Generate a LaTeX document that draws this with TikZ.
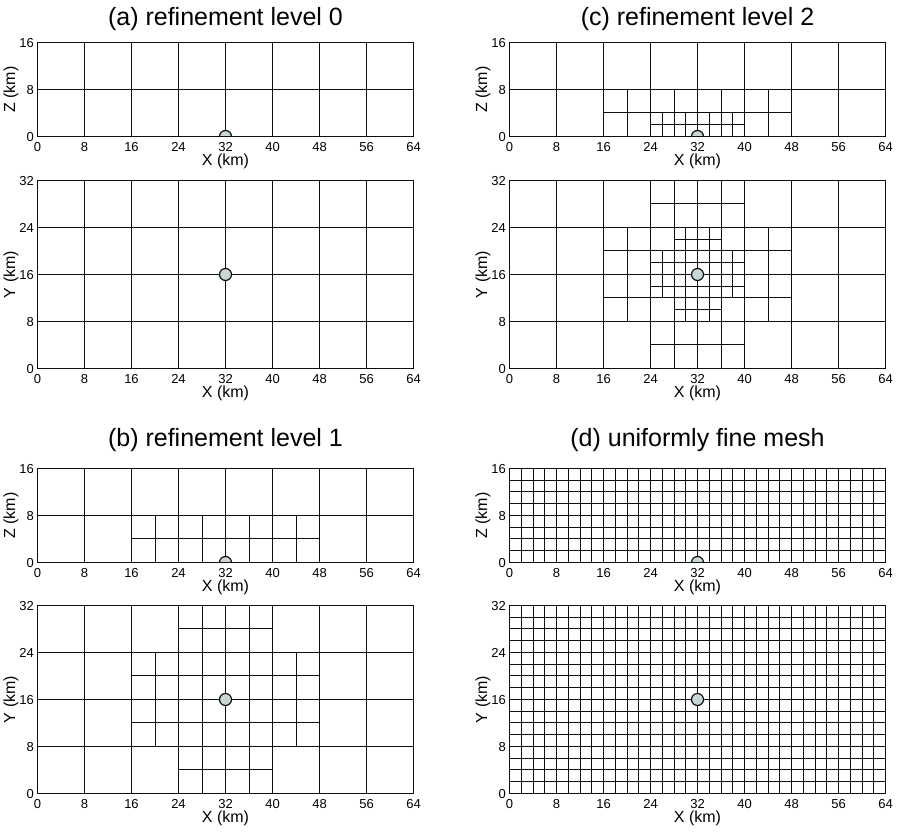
\documentclass[tikz,border=0pt]{standalone}
\usepackage{fontspec}
\setmainfont{Liberation Sans}
\definecolor{srcfill}{RGB}{200,214,214}
\definecolor{ink}{RGB}{15,15,15}
\tikzset{
  gl/.style={draw=ink, line width=1.4pt, line cap=rect},
  src/.style={circle, draw=ink, line width=1.2pt, fill=srcfill, minimum size=12pt, inner sep=0pt},
  tick/.style={inner sep=0pt, anchor=base, font=\fontsize{13}{15}\selectfont},
  axlab/.style={inner sep=0pt, font=\fontsize{16}{18}\selectfont},
  ttl/.style={inner sep=0pt, anchor=base, font=\fontsize{25}{28}\selectfont}
}
\def\kx{5.875}
\def\ky{5.875}
% panel origin (pixel coordinates of the (0,0) km corner)
\newcommand\setpanel[2]{\def\ox{#1}\def\oy{#2}}
% mesh lines: x0,y0,x1,y1,step (km), snapped to pixel centres
\newcommand\mgrid[5]{%
  \pgfmathtruncatemacro\mgnx{(#3-#1)/#5}%
  \pgfmathtruncatemacro\mgny{(#4-#2)/#5}%
  \pgfmathsetmacro\pya{\oy-round(#2*\ky)+0.5}%
  \pgfmathsetmacro\pyb{\oy-round(#4*\ky)+0.5}%
  \pgfmathsetmacro\pxa{\ox+round(#1*\kx)+0.5}%
  \pgfmathsetmacro\pxb{\ox+round(#3*\kx)+0.5}%
  \foreach \k in {0,...,\mgnx} {\pgfmathsetmacro\mgp{\ox+round((#1+\k*#5)*\kx)+0.5}\draw[gl] (\mgp,\pya) -- (\mgp,\pyb);}%
  \foreach \k in {0,...,\mgny} {\pgfmathsetmacro\mgp{\oy-round((#2+\k*#5)*\ky)+0.5}\draw[gl] (\pxa,\mgp) -- (\pxb,\mgp);}%
}
% #1 prefix, #2 ymax (km), #3 y letter
\newcommand\panellabels[3]{%
  \foreach \i in {0,8,...,64} {\pgfmathsetmacro\mgp{\ox+round(\i*\kx)+0.5}\node[tick] (#1x\i) at (\mgp,\oy+15.2) {\i};}%
  \foreach \j in {0,8,...,#2} {\pgfmathsetmacro\mgp{\oy-round(\j*\ky)+0.5+4.6}\node[tick, anchor=base east] (#1y\j) at (\ox-3,\mgp) {\j};}%
  \node[axlab] (#1xl) at (\ox+188.5,\oy+25.5) {X (km)};%
  \pgfmathsetmacro\mgp{\oy-round(#2/2*\ky)+0.5}%
  \node[axlab, rotate=90] (#1yl) at (\ox-26,\mgp) {#3 (km)};%
}
% source on the surface (half circle) and in plan view
\newcommand\srcxz[1]{%
  \begin{scope}\clip (\ox+0.5,\oy+0.5) rectangle (\ox+376.5,\oy-93.5);
    \node[src] (#1) at (\ox+188.5,\oy+0.5) {};
  \end{scope}%
  \draw[gl] (\ox+0.5,\oy+0.5) -- (\ox+376.5,\oy+0.5);%
}
\newcommand\srcxy[1]{\node[src] (#1) at (\ox+188.5,\oy-93.5) {};}
\begin{document}
\begin{tikzpicture}[x=1pt,y=-1pt]
\useasboundingbox (0,0) rectangle (897,835);

% titles
\node[ttl] (ta) at (225.5,25.5) {(a) refinement level 0};
\node[ttl] (tc) at (697.5,25.5) {(c) refinement level 2};
\node[ttl] (tb) at (225.5,446) {(b) refinement level 1};
\node[ttl] (td) at (697.5,446) {(d) uniformly fine mesh};

% ---------- (a) ----------
\setpanel{37}{136}
\mgrid{0}{0}{64}{16}{8}
\srcxz{sa1}
\panellabels{a1}{16}{Z}
\setpanel{37}{368}
\mgrid{0}{0}{64}{32}{8}
\srcxy{sa2}
\panellabels{a2}{32}{Y}

% ---------- (c) ----------
\setpanel{509}{136}
\mgrid{0}{0}{64}{16}{8}
\mgrid{16}{0}{48}{8}{4}
\mgrid{24}{0}{40}{4}{2}
\srcxz{sc1}
\panellabels{c1}{16}{Z}
\setpanel{509}{368}
\mgrid{0}{0}{64}{32}{8}
\mgrid{24}{0}{40}{32}{4}
\mgrid{16}{8}{48}{24}{4}
\mgrid{28}{8}{36}{24}{2}
\mgrid{24}{12}{40}{20}{2}
\srcxy{sc2}
\panellabels{c2}{32}{Y}

% ---------- (b) ----------
\setpanel{37}{562}
\mgrid{0}{0}{64}{16}{8}
\mgrid{16}{0}{48}{8}{4}
\srcxz{sb1}
\panellabels{b1}{16}{Z}
\setpanel{37}{793}
\mgrid{0}{0}{64}{32}{8}
\mgrid{24}{0}{40}{32}{4}
\mgrid{16}{8}{48}{24}{4}
\srcxy{sb2}
\panellabels{b2}{32}{Y}

% ---------- (d) ----------
\setpanel{509}{562}
\mgrid{0}{0}{64}{16}{2}
\srcxz{sd1}
\panellabels{d1}{16}{Z}
\setpanel{509}{793}
\mgrid{0}{0}{64}{32}{2}
\srcxy{sd2}
\panellabels{d2}{32}{Y}
\end{tikzpicture}
\end{document}
